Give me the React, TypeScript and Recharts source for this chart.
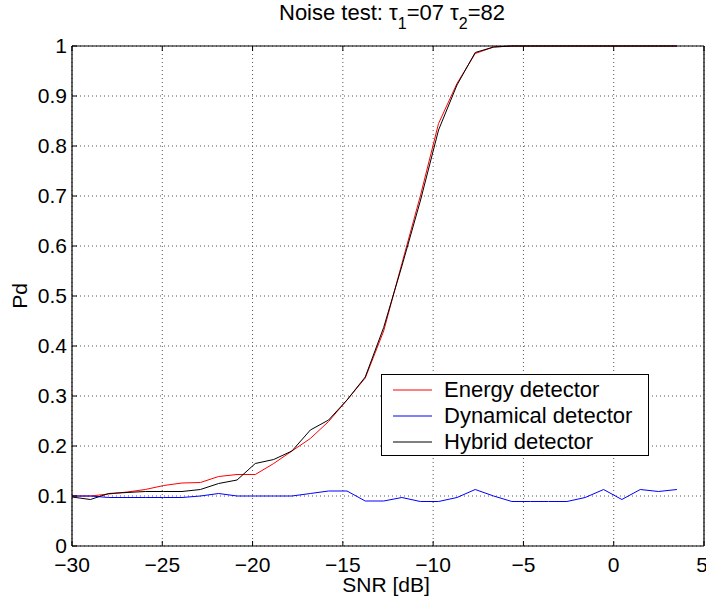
import React from 'react';
import { LineChart, Line, XAxis, YAxis, CartesianGrid, Legend, Label } from 'recharts';

// SNR values in dB (34 points)
const snr = [
  -30, -28.98, -27.97, -26.95, -25.94, -24.92, -23.91, -22.89, -21.88, -20.86,
  -19.85, -18.83, -17.82, -16.8, -15.79, -14.77, -13.76, -12.74, -11.73, -10.71,
  -9.7, -8.68, -7.67, -6.65, -5.64, -4.62, -3.61, -2.59, -1.58, -0.56,
  0.45, 1.47, 2.48, 3.5,
];

// Probability of detection for each detector
const energy = [
  0.1, 0.1, 0.104, 0.108, 0.113, 0.121, 0.126, 0.127, 0.139, 0.143,
  0.143, 0.165, 0.19, 0.215, 0.249, 0.292, 0.336, 0.43, 0.565, 0.7,
  0.845, 0.925, 0.985, 0.998, 1, 1, 1, 1, 1, 1,
  1, 1, 1, 1,
];
const dynamical = [
  0.1, 0.1, 0.097, 0.097, 0.097, 0.097, 0.097, 0.1, 0.105, 0.1,
  0.1, 0.1, 0.1, 0.105, 0.11, 0.11, 0.09, 0.09, 0.097, 0.089,
  0.089, 0.097, 0.113, 0.1, 0.089, 0.089, 0.089, 0.089, 0.097, 0.113,
  0.093, 0.113, 0.109, 0.113,
];
const hybrid = [
  0.098, 0.093, 0.105, 0.107, 0.109, 0.109, 0.109, 0.113, 0.125, 0.132,
  0.165, 0.173, 0.19, 0.232, 0.252, 0.292, 0.338, 0.437, 0.56, 0.69,
  0.832, 0.922, 0.987, 0.998, 1, 1, 1, 1, 1, 1,
  1, 1, 1, 1,
];

const seriesNames = ['Energy detector', 'Dynamical detector', 'Hybrid detector'];
const xTicks = [-30, -25, -20, -15, -10, -5, 0, 5];
const yTicks = [0, 0.1, 0.2, 0.3, 0.4, 0.5, 0.6, 0.7, 0.8, 0.9, 1];

const data = snr.map((x, i) => ({
  x,
  energy: energy[i],
  dynamical: dynamical[i],
  hybrid: hybrid[i],
}));

const font = '"Liberation Sans", Arial, Helvetica, sans-serif';

function LegendBox(props: any) {
  const items = [...(props.payload || [])].sort(
    (a: any, b: any) => seriesNames.indexOf(a.value) - seriesNames.indexOf(b.value)
  );
  return (
    <div
      style={{
        border: '1.5px solid #000',
        background: '#fff',
        width: 268,
        height: 82,
        boxSizing: 'border-box',
        paddingTop: 2,
        fontFamily: font,
        fontSize: 22,
        color: '#000',
      }}
    >
      {items.map((it: any) => (
        <div key={it.value} style={{ display: 'flex', alignItems: 'center', height: 26 }}>
          <svg width={62} height={26} style={{ flex: 'none' }}>
            <line x1={11} x2={50} y1={13} y2={13} stroke={it.color} strokeWidth={1} />
          </svg>
          <span style={{ lineHeight: '26px', whiteSpace: 'nowrap' }}>{it.value}</span>
        </div>
      ))}
    </div>
  );
}

const XTick = (p: any) => (
  <text x={p.x} y={p.y} dy="0.71em" textAnchor="middle" fontSize={21} fill="#000">
    {String(p.payload.value).replace('-', '\u2212')}
  </text>
);

const YTick = (p: any) => (
  <text x={p.x} y={p.y} dy="0.355em" textAnchor="end" fontSize={21} fill="#000">
    {String(p.payload.value)}
  </text>
);

const noTick = () => <g />;

export default function App() {
  return (
    <div style={{ position: 'absolute', left: 0, top: 0, fontFamily: font }}>
      <LineChart
        width={706}
        height={600}
        data={data}
        margin={{ top: 45, right: 1, bottom: 0, left: 0 }}
      >
        <CartesianGrid stroke="#555" strokeDasharray="1 3" />
        <XAxis
          dataKey="x"
          type="number"
          domain={[-30, 5]}
          ticks={xTicks}
          allowDataOverflow
          height={54}
          tickSize={-5}
          tickMargin={16}
          tick={XTick}
          axisLine={{ stroke: '#000', strokeWidth: 1.2 }}
          tickLine={{ stroke: '#000' }}
        >
          <Label
            content={() => (
              <text x={386} y={592} textAnchor="middle" fontSize={21} fill="#000">
                SNR [dB]
              </text>
            )}
          />
        </XAxis>
        <XAxis
          xAxisId="top"
          orientation="top"
          dataKey="x"
          type="number"
          domain={[-30, 5]}
          ticks={xTicks}
          height={1}
          tickSize={-5}
          tick={noTick}
          axisLine={{ stroke: '#000', strokeWidth: 1.2 }}
          tickLine={{ stroke: '#000' }}
        />
        <YAxis
          type="number"
          domain={[0, 1]}
          ticks={yTicks}
          width={72}
          tickSize={-5}
          tickMargin={10}
          tick={YTick}
          axisLine={{ stroke: '#000', strokeWidth: 1.2 }}
          tickLine={{ stroke: '#000' }}
        >
          <Label
            content={() => (
              <g>
                <text
                  x={27}
                  y={296}
                  textAnchor="middle"
                  fontSize={21}
                  fill="#000"
                  transform="rotate(-90, 27, 296)"
                >
                  Pd
                </text>
                <text x={392} y={20} textAnchor="middle" fontSize={22} fill="#000">
                  Noise test: τ
                  <tspan fontSize={16} dy={9}>1</tspan>
                  <tspan dy={-9}>=07 τ</tspan>
                  <tspan fontSize={16} dy={9}>2</tspan>
                  <tspan dy={-9}>=82</tspan>
                </text>
              </g>
            )}
          />
        </YAxis>
        <YAxis
          yAxisId="right"
          orientation="right"
          type="number"
          domain={[0, 1]}
          ticks={yTicks}
          width={1}
          tickSize={-5}
          tick={noTick}
          axisLine={{ stroke: '#000', strokeWidth: 1.2 }}
          tickLine={{ stroke: '#000' }}
        />
        <Legend
          layout="vertical"
          align="center"
          verticalAlign="middle"
          wrapperStyle={{ left: 381, top: 374, width: 268 }}
          content={<LegendBox />}
        />
        <Line
          name="Energy detector"
          dataKey="energy"
          stroke="#ff0000"
          strokeWidth={1}
          dot={false}
          isAnimationActive={false}
        />
        <Line
          name="Dynamical detector"
          dataKey="dynamical"
          stroke="#0000ff"
          strokeWidth={1}
          dot={false}
          isAnimationActive={false}
        />
        <Line
          name="Hybrid detector"
          dataKey="hybrid"
          stroke="#000000"
          strokeWidth={1}
          dot={false}
          isAnimationActive={false}
        />
      </LineChart>
    </div>
  );
}
